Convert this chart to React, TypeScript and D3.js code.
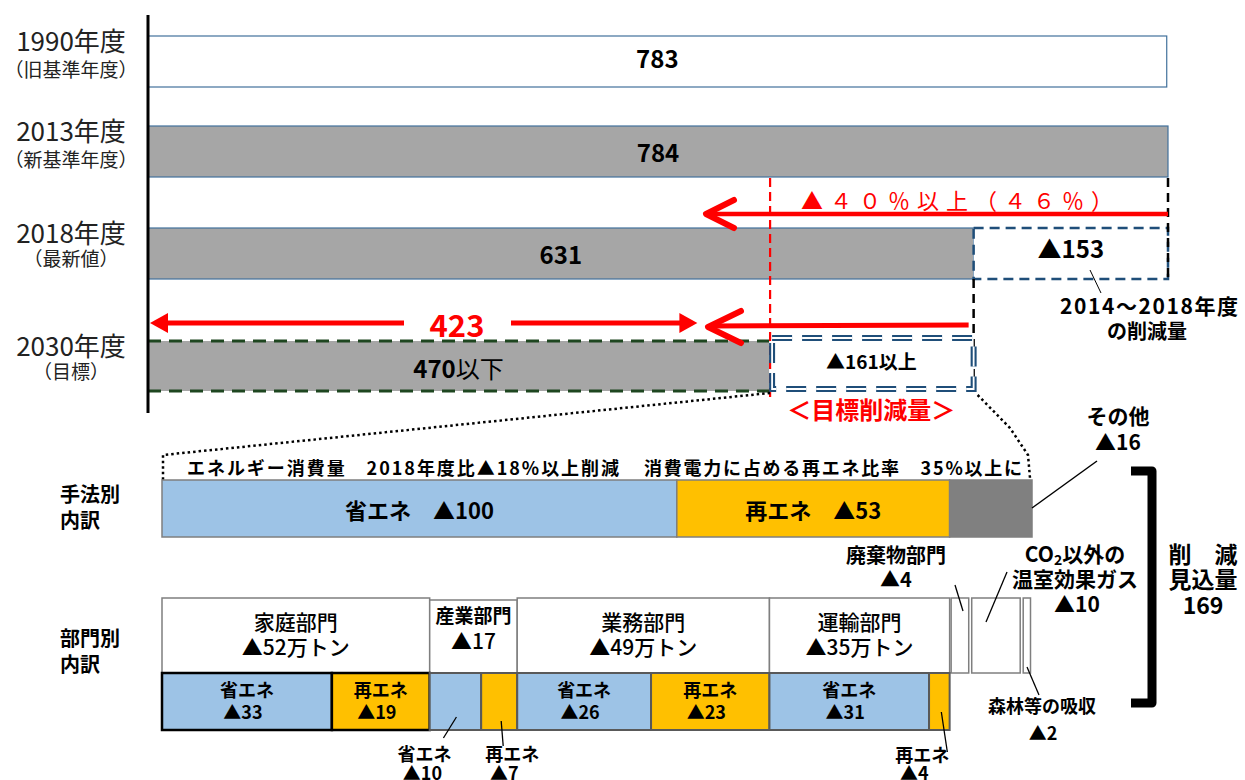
import React from "react";
import * as d3 from "d3";

// ---------- data ----------
const years = ["1990年度", "2013年度", "2018年度", "2030年度"];
const yearNotes = ["（旧基準年度）", "（新基準年度）", "（最新値）", "（目標）"];
const emissions = [783, 784, 631, 470];
const reduction2014to2018 = 153;
const targetReduction = 161;
const arrowValue = 423;
const targetText = "▲４０％以上（４６％）";

const methodNames = ["省エネ", "再エネ", "その他"];
const methodValues = [100, 53, 16];
const methodNotes = ["エネルギー消費量　2018年度比▲18%以上削減", "消費電力に占める再エネ比率　35%以上に"];

const sectorNames = ["家庭部門", "産業部門", "業務部門", "運輸部門", "廃棄物部門", "CO2以外の温室効果ガス", "森林等の吸収"];
const sectorValues = [52, 17, 49, 35, 4, 10, 2];
const sectorUnits = ["万トン", "", "万トン", "万トン"];
const sectorSaving = [33, 10, 26, 31];
const sectorRenew = [19, 7, 23, 4];
const totalReduction = 169;

// ---------- layout ----------
const W = 1245, H = 780;
const F = "'Noto Sans CJK JP','Noto Sans',sans-serif";
const AXIS_X = 148;
const BAR_H = 51;
const RED = "#ff0000";
const BLUE = "#9dc3e6";
const GOLD = "#ffc000";
const NAVY = "#1f4e79";

const xTop = d3.scaleLinear().domain([0, 784]).range([172, 1168]);
const rowTop = d3.scaleOrdinal<string, number>().domain(years).range([36, 126, 228, 341]);
const xB = d3.scaleLinear().domain([0, totalReduction]).range([162, 1032]);

const methodStart = [0, ...d3.cumsum(methodValues)];
const sectorStart = [0, ...d3.cumsum(sectorValues)];

const M_TOP = 480, M_BOT = 537;
const S_TOP = 598, S_MID = 673, S_BOT = 730;

function LeftChevron({ x, y, len, half }: { x: number; y: number; len: number; half: number }) {
  return (
    <path d={`M${x + len},${y - half} L${x},${y} L${x + len},${y + half}`} fill="none" stroke={RED} strokeWidth={6} strokeLinecap="round" strokeLinejoin="round" />
  );
}

export default function App() {
  const x631 = xTop(emissions[2]);
  const x784 = xTop(emissions[1]);
  const x470 = xTop(emissions[3]);

  return (
    <svg width={W} height={H} style={{ position: "absolute", left: 0, top: 0, background: "#fff" }} fontFamily={F}>
      {/* ---------- top chart ---------- */}
      {years.map((y, i) => {
        const top = rowTop(y);
        const x1 = xTop(emissions[i]);
        const is2030 = i === 3;
        return (
          <g key={y}>
            <rect x={AXIS_X} y={top} width={x1 - AXIS_X} height={is2030 ? 50 : BAR_H}
              fill={i === 0 ? "#ffffff" : "#a6a6a6"} stroke={is2030 ? "none" : "#41719c"} strokeWidth={1.2} />
            {is2030 && (
              <g stroke="#1e4620" strokeWidth={3} strokeDasharray="13,8">
                <line x1={AXIS_X} x2={x1} y1={top} y2={top} />
                <line x1={AXIS_X} x2={x1} y1={top + 50} y2={top + 50} />
              </g>
            )}
            <text x={(AXIS_X + x1) / 2} y={top + BAR_H / 2 + (i === 0 ? -4 : 0)} textAnchor="middle" dominantBaseline="central"
              fontSize={24} fontWeight={700} fill="#000">
              {is2030 ? (<><tspan>{emissions[i]}</tspan><tspan fontWeight={400}>以下</tspan></>) : emissions[i]}
            </text>
            <text x={71} y={top + 3} textAnchor="middle" dominantBaseline="central" fontSize={26} fill="#222">{y}</text>
            <text x={71} y={top + (i < 2 ? 32 : 29)} textAnchor="middle" dominantBaseline="central" fontSize={19} fill="#222">{yearNotes[i]}</text>
          </g>
        );
      })}

      {/* axis */}
      <line x1={AXIS_X} x2={AXIS_X} y1={15} y2={413} stroke="#000" strokeWidth={3} />

      {/* red dashed target line */}
      <line x1={x470 + 1} x2={x470 + 1} y1={178} y2={400} stroke={RED} strokeWidth={2.2} strokeDasharray="9,5" />

      {/* ▲153 box */}
      <rect x={x631} y={rowTop(years[2])} width={x784 - x631} height={BAR_H} fill="#fff" stroke={NAVY} strokeWidth={2.5} strokeDasharray="10,6" />
      <line x1={x784} x2={x784} y1={178} y2={rowTop(years[2]) + BAR_H} stroke="#000" strokeWidth={2.5} strokeDasharray="9,6" />
      <line x1={x631} x2={x631} y1={rowTop(years[2]) + BAR_H} y2={392} stroke="#000" strokeWidth={2.5} strokeDasharray="9,6" />
      <text x={(x631 + x784) / 2} y={rowTop(years[2]) + 19} textAnchor="middle" dominantBaseline="central" fontSize={24} fontWeight={700}>▲{reduction2014to2018}</text>
      <line x1={1090} y1={270} x2={1101} y2={293} stroke="#000" strokeWidth={1} />
      <text x={1149} y={305} textAnchor="middle" dominantBaseline="central" fontSize={21} fontWeight={700} textLength={178} lengthAdjust="spacing">2014～2018年度</text>
      <text x={1147} y={330} textAnchor="middle" dominantBaseline="central" fontSize={20} fontWeight={700}>の削減量</text>

      {/* ▲161 box (double dashed) */}
      <g>
        <rect x={x470 + 3} y={338} width={x631 - x470 - 3} height={51} fill="#fff" stroke={NAVY} strokeWidth={6} strokeDasharray="20,10" />
        <rect x={x470 + 3} y={338} width={x631 - x470 - 3} height={51} fill="none" stroke="#fff" strokeWidth={1.8} strokeDasharray="20,10" />
      </g>
      <text x={(x470 + x631) / 2} y={360} textAnchor="middle" dominantBaseline="central" fontSize={19} fontWeight={700}>▲{targetReduction}以上</text>
      <text x={(x470 + x631) / 2} y={408} textAnchor="middle" dominantBaseline="central" fontSize={24} fontWeight={700} fill={RED}>＜目標削減量＞</text>

      {/* arrow ▲40% */}
      <line x1={x784} x2={708} y1={214} y2={214} stroke={RED} strokeWidth={4.5} />
      <LeftChevron x={706} y={214} len={28} half={14} />
      <text x={957} y={199} textAnchor="middle" dominantBaseline="central" fontSize={22} fill={RED} textLength={312} lengthAdjust="spacing">{targetText}</text>

      {/* arrow 2030 */}
      <line x1={x631 - 5} x2={710} y1={325} y2={326} stroke={RED} strokeWidth={5} />
      <LeftChevron x={708} y={327} len={33} half={16} />

      {/* 423 double arrow */}
      <g>
        <line x1={166} x2={404} y1={323} y2={323} stroke={RED} strokeWidth={5} />
        <line x1={511} x2={xTop(arrowValue) - 28} y1={323} y2={323} stroke={RED} strokeWidth={5} />
        <path d={`M150,323 L168,313 L168,333 Z`} fill={RED} />
        <path d={`M${xTop(arrowValue) - 12},323 L${xTop(arrowValue) - 30},313 L${xTop(arrowValue) - 30},333 Z`} fill={RED} />
        <text x={457} y={323} textAnchor="middle" dominantBaseline="central" fontSize={31} fontWeight={700} fill={RED}>{arrowValue}</text>
      </g>

      {/* dotted connectors */}
      <polyline points={`${x470 + 1},393 163,455 163,481`} fill="none" stroke="#000" strokeWidth={2.5} strokeDasharray="2.5,3" />
      <polyline points={`${x631 + 4},395 1010,428 1028,455 1030,478`} fill="none" stroke="#000" strokeWidth={2.5} strokeDasharray="2.5,3" />

      {/* ---------- method breakdown ---------- */}
      <text x={60} y={493} dominantBaseline="central" fontSize={20} fontWeight={700}>手法別</text>
      <text x={60} y={519} dominantBaseline="central" fontSize={20} fontWeight={700}>内訳</text>
      <text x={403} y={467} textAnchor="middle" dominantBaseline="central" fontSize={18} fontWeight={700} textLength={432} lengthAdjust="spacing">{methodNotes[0]}</text>
      <text x={833} y={467} textAnchor="middle" dominantBaseline="central" fontSize={18} fontWeight={700} textLength={378} lengthAdjust="spacing">{methodNotes[1]}</text>
      {methodNames.map((m, i) => {
        const x0 = xB(methodStart[i]), x1 = xB(methodStart[i + 1]);
        const fill = i === 0 ? BLUE : i === 1 ? GOLD : "#808080";
        return (
          <g key={m}>
            <rect x={x0} y={M_TOP} width={x1 - x0} height={M_BOT - M_TOP} fill={fill} stroke="#7f7f7f" strokeWidth={1.5} />
            {i < 2 && (
              <text x={(x0 + x1) / 2} y={(M_TOP + M_BOT) / 2} textAnchor="middle" dominantBaseline="central" fontSize={22} fontWeight={700}>
                {m}　▲{methodValues[i]}
              </text>
            )}
          </g>
        );
      })}
      {/* その他 label */}
      <text x={1118} y={415} textAnchor="middle" dominantBaseline="central" fontSize={21} fontWeight={700}>{methodNames[2]}</text>
      <text x={1118} y={441} textAnchor="middle" dominantBaseline="central" fontSize={21} fontWeight={700}>▲{methodValues[2]}</text>
      <line x1={1097} y1={461} x2={1032} y2={508} stroke="#000" strokeWidth={1.5} />

      {/* ---------- sector breakdown ---------- */}
      <text x={60} y={637} dominantBaseline="central" fontSize={20} fontWeight={700}>部門別</text>
      <text x={60} y={663} dominantBaseline="central" fontSize={20} fontWeight={700}>内訳</text>

      {sectorNames.map((s, i) => {
        const x0 = xB(sectorStart[i]), x1 = xB(sectorStart[i + 1]);
        const top = i === 1 ? S_TOP + 2 : S_TOP;
        const small = i >= 4;
        return (
          <g key={s}>
            <rect x={x0 + (small ? 1.5 : 0)} y={top} width={x1 - x0 - (small ? 3 : 0)} height={S_MID - top} fill="#fff" stroke="#7f7f7f" strokeWidth={1.5} />
            {i < 4 && (
              <>
                <text x={(x0 + x1) / 2} y={i === 1 ? 614 : 621} textAnchor="middle" dominantBaseline="central" fontSize={i === 1 ? 19 : 21} fontWeight={i === 1 ? 700 : 500}>{s}</text>
                <text x={(x0 + x1) / 2} y={i === 1 ? 640 : 646} textAnchor="middle" dominantBaseline="central" fontSize={21} fontWeight={500}>▲{sectorValues[i]}{sectorUnits[i]}</text>
              </>
            )}
          </g>
        );
      })}

      {sectorSaving.map((sv, i) => {
        const s0 = sectorStart[i];
        const parts = [
          { name: "省エネ", v: sv, a: s0, b: s0 + sv, fill: BLUE },
          { name: "再エネ", v: sectorRenew[i], a: s0 + sv, b: s0 + sv + sectorRenew[i], fill: GOLD },
        ];
        return parts.map((p, j) => {
          const x0 = xB(p.a), x1 = xB(p.b);
          const cx = (x0 + x1) / 2;
          const inside = x1 - x0 > 60;
          return (
            <g key={`${i}-${j}`}>
              <rect x={x0} y={S_MID} width={x1 - x0} height={S_BOT - S_MID} fill={p.fill}
                stroke={i === 0 ? "#000" : "#595959"} strokeWidth={i === 0 ? 2.5 : 2} />
              {inside && (
                <>
                  <text x={cx} y={689} textAnchor="middle" dominantBaseline="central" fontSize={18} fontWeight={700}>{p.name}</text>
                  <text x={cx - 4} y={711} textAnchor="middle" dominantBaseline="central" fontSize={18} fontWeight={700}>▲{p.v}</text>
                </>
              )}
            </g>
          );
        });
      })}

      {/* outside labels for narrow sub-bars */}
      {(() => {
        const ind0 = xB(sectorStart[1]), ind1 = xB(sectorStart[1] + sectorSaving[1]), ind2 = xB(sectorStart[2]);
        const tr1 = xB(sectorStart[3] + sectorSaving[3]), tr2 = xB(sectorStart[4]);
        const cS = (ind0 + ind1) / 2, cR = (ind1 + ind2) / 2, cT = (tr1 + tr2) / 2;
        return (
          <g fontSize={18} fontWeight={700} textAnchor="middle">
            <line x1={cS + 1} y1={717} x2={cS - 12} y2={738} stroke="#000" strokeWidth={1.3} />
            <text x={cS - 31} y={753} dominantBaseline="central">省エネ</text>
            <text x={cS - 33} y={772} dominantBaseline="central">▲{sectorSaving[1]}</text>
            <line x1={cR + 2} y1={721} x2={cR + 4} y2={746} stroke="#000" strokeWidth={1.3} />
            <text x={cR + 13} y={753} dominantBaseline="central">再エネ</text>
            <text x={cR + 5} y={772} dominantBaseline="central">▲{sectorRenew[1]}</text>
            <line x1={cT + 2} y1={712} x2={cT + 8} y2={752} stroke="#000" strokeWidth={1.3} />
            <text x={cT - 17} y={754} dominantBaseline="central">再エネ</text>
            <text x={cT - 25} y={772} dominantBaseline="central">▲{sectorRenew[3]}</text>
          </g>
        );
      })()}

      {/* small sector annotations */}
      <g fontSize={20} fontWeight={700} textAnchor="middle">
        <text x={896} y={554} dominantBaseline="central">{sectorNames[4]}</text>
        <text x={896} y={578} dominantBaseline="central">▲{sectorValues[4]}</text>
        <line x1={955} y1={585} x2={963} y2={611} stroke="#000" strokeWidth={1.3} />

        <text x={1075} y={553} dominantBaseline="central" fontSize={21}>
          <tspan>CO</tspan><tspan fontSize={14} dy={6}>2</tspan><tspan dy={-6}>以外の</tspan>
        </text>
        <text x={1075} y={578} dominantBaseline="central" fontSize={21}>温室効果ガス</text>
        <text x={1077} y={603} dominantBaseline="central" fontSize={21}>▲{sectorValues[5]}</text>
        <line x1={1007} y1={572} x2={986} y2={622} stroke="#000" strokeWidth={1.3} />

        <text x={1042} y={705} dominantBaseline="central" fontSize={18}>{sectorNames[6]}</text>
        <text x={1043} y={732} dominantBaseline="central" fontSize={18}>▲{sectorValues[6]}</text>
        <line x1={1027} y1={667} x2={1039} y2={695} stroke="#000" strokeWidth={1.3} />
      </g>

      {/* bracket + total */}
      <path d="M1131,471 H1152 V703 H1131" fill="none" stroke="#000" strokeWidth={9} strokeLinejoin="round" />
      <g fontSize={23} fontWeight={700} textAnchor="middle">
        <text x={1203} y={553} dominantBaseline="central">削　減</text>
        <text x={1203} y={578} dominantBaseline="central">見込量</text>
        <text x={1203} y={604} dominantBaseline="central">{totalReduction}</text>
      </g>
    </svg>
  );
}
